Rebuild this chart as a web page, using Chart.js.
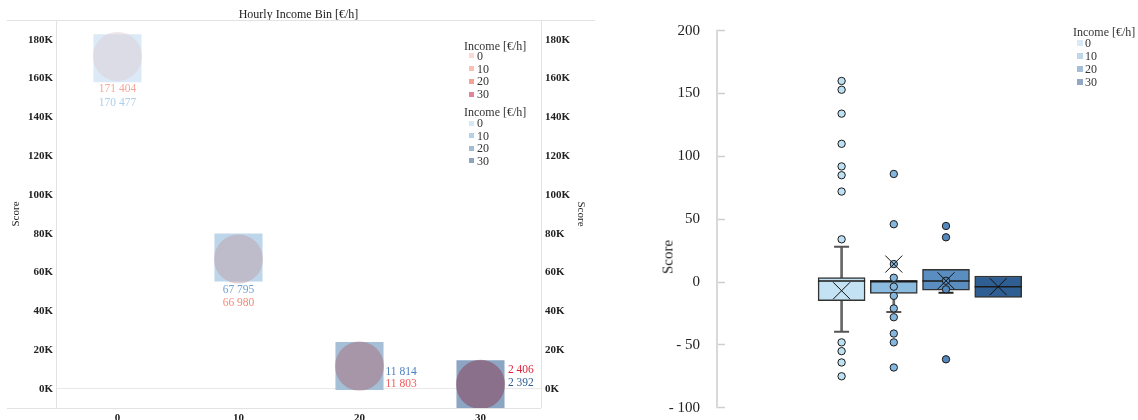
<!DOCTYPE html>
<html><head><meta charset="utf-8">
<script src="https://cdn.jsdelivr.net/npm/chart.js@4.4.1/dist/chart.umd.min.js"></script>
<style>
html,body{margin:0;padding:0;background:#fff;}
#wrap{position:relative;width:1138px;height:420px;overflow:hidden;font-family:"Liberation Serif","Times New Roman",serif;}
canvas{position:absolute;top:0;}
.lg{position:absolute;white-space:nowrap;font-size:12px;line-height:12px;height:12px;color:#333;}
.sw{position:absolute;}
#scoreR{position:absolute;font-size:15px;line-height:15px;color:#222;white-space:nowrap;transform:translate(-50%,-50%) rotate(-90deg);}
</style></head><body>
<div id="wrap">
<canvas id="c1" width="600" height="420" style="left:0"></canvas>
<canvas id="c2" width="498" height="420" style="left:640px"></canvas>
<div id="scoreR" style="left:668px;top:257px">Score</div>
</div>
<script>
// ---------- DATA ----------
const incomeBins = [0, 10, 20, 30];
const binLabels = ['0', '10', '20', '30'];
const countRed = [171404, 66980, 11803, 2406];
const countBlue = [170477, 67795, 11814, 2392];
const countTicks = [0, 20000, 40000, 60000, 80000, 100000, 120000, 140000, 160000, 180000];
const binTicks = [0, 10, 20, 30];

const boxQ1 = [-14.9, -9.0, -6.4, -12.2];
const boxMedian = [0.8, 0.3, 0.8, -3.7];
const boxQ3 = [3.5, 1.3, 10.1, 4.8];
const boxMean = [-6.9, 14.3, 1.0, -3.7];
const whiskerLow = [-39.5, -23.9, -8.5, null];
const whiskerHigh = [28.1, null, null, null];
const outliers0 = [160, 153, 134, 110, 92, 85, 72, 34, -48, -55, -64, -75];
const outliers10 = [86, 46, 14.3, 3.4, -3.7, -11, -21, -28, -41, -48, -68];
const outliers20 = [44.6, 35.6, 1.0, -5.8, -61.5];
const outliers30 = [];
const scoreTicks = [-100, -50, 0, 50, 100, 150, 200];

// ---------- STYLE ----------
const SERIF = '"Liberation Serif", "Times New Roman", serif';
const squareColors = ['rgb(219,234,246)', 'rgb(190,214,234)', 'rgb(165,191,215)', 'rgb(140,165,194)'];
const circleColors = ['rgba(221,206,214,0.5)', 'rgba(190,160,172,0.5)', 'rgba(167,109,121,0.5)', 'rgba(136,59,82,0.5)'];
const redLabelColors = ['#f5a898', '#f48a78', '#f25a5a', '#e0243c'];
const blueLabelColors = ['#a9cfee', '#6fa2d3', '#4a80c0', '#2c5d94'];
const legendRed = ['#fdd9d3', '#fbbfb4', '#f5a193', '#e48396'];
const legendBlue = ['#d8e9f6', '#b6d0e8', '#a3bcd6', '#8ea5bf'];
const legendRight = ['#d9eaf6', '#bcd6ea', '#a5bed8', '#90a8c3'];
const boxFill = ['#c3e2f3', '#8cbbe0', '#5a8ec0', '#2f5f92'];
const outlierFill = ['#bde0f3', '#84b7df', '#5588bc', '#2f5f92'];
const capColors = ['#555', '#555', '#222', '#222'];

const fmt = n => String(n).replace(/\B(?=(\d{3})+(?!\d))/g, ' ');
const fixH = h => s => { s.height = h; s.paddingLeft = 0; s.paddingRight = 0; s.paddingTop = 0; s.paddingBottom = 0; };
const fixW = w => s => { s.width = w; s.paddingLeft = 0; s.paddingRight = 0; s.paddingTop = 0; s.paddingBottom = 0; };

// ---------- LEFT CHART ----------
const framePlugin = {
  id: 'frame',
  beforeDatasetsDraw(chart) {
    const {ctx, chartArea: a} = chart;
    ctx.save();
    ctx.strokeStyle = '#e3e3e3';
    ctx.lineWidth = 1;
    ctx.beginPath();
    ctx.moveTo(7, a.top + 0.5); ctx.lineTo(595, a.top + 0.5);
    ctx.moveTo(7, a.bottom + 0.5); ctx.lineTo(a.right, a.bottom + 0.5);
    ctx.moveTo(a.left + 0.5, a.top); ctx.lineTo(a.left + 0.5, a.bottom);
    ctx.moveTo(a.right + 0.5, a.top); ctx.lineTo(a.right + 0.5, a.bottom);
    ctx.stroke();
    ctx.restore();
  }
};
const labelLayout = [
  [0, 31, 45, 'center'],
  [0, 45.5, 32.5, 'center'],
  [26, 17.5, 6, 'left'],
  [27.5, -14, -1, 'left']
];
const labelPlugin = {
  id: 'vals',
  afterDatasetsDraw(chart) {
    const {ctx, scales: {x, y}} = chart;
    ctx.save();
    ctx.font = '11.5px ' + SERIF;
    ctx.textBaseline = 'middle';
    incomeBins.forEach((b, i) => {
      const px = x.getPixelForValue(b);
      const py = y.getPixelForValue(countBlue[i]);
      const [dx, dr, db, al] = labelLayout[i];
      ctx.textAlign = al;
      ctx.fillStyle = redLabelColors[i];
      ctx.fillText(fmt(countRed[i]), px + dx, py + dr);
      ctx.fillStyle = blueLabelColors[i];
      ctx.fillText(fmt(countBlue[i]), px + dx, py + db);
    });
    ctx.restore();
  }
};
const tickFont = {family: SERIF, size: 11, weight: 'bold'};
new Chart(document.getElementById('c1'), {
  type: 'scatter',
  data: {
    datasets: [
      {
        label: 'Income [€/h] red',
        data: incomeBins.map((b, i) => ({x: b, y: countRed[i]})),
        pointStyle: 'circle', pointRadius: 24.5, pointHoverRadius: 24.5,
        backgroundColor: circleColors, borderWidth: 0, clip: 0, order: 0
      },
      {
        label: 'Income [€/h] blue',
        data: incomeBins.map((b, i) => ({x: b, y: countBlue[i]})),
        pointStyle: 'rect', pointRadius: 34, pointHoverRadius: 34,
        backgroundColor: squareColors, borderWidth: 0, clip: 0, order: 1
      }
    ]
  },
  options: {
    responsive: false, animation: false, events: [],
    layout: {padding: 0, autoPadding: false},
    plugins: {legend: {display: false}, tooltip: {enabled: false}, title: {display: false}},
    scales: {
      x: {
        type: 'linear', position: 'bottom', min: -5.08, max: 35,
        afterBuildTicks: s => { s.ticks = binTicks.map(v => ({value: v})); },
        afterFit: fixH(12),
        grid: {display: false, drawTicks: false}, border: {display: false},
        ticks: {padding: 4, font: tickFont, color: '#222', autoSkip: false, maxRotation: 0}
      },
      xTop: {
        type: 'linear', position: 'top', min: -5.08, max: 35,
        afterFit: fixH(20),
        grid: {display: false, drawTicks: false}, border: {display: false}, ticks: {display: false},
        title: {display: true, text: 'Hourly Income Bin [€/h]', font: {family: SERIF, size: 12}, color: '#222', padding: {top: 8, bottom: 0}}
      },
      y: {
        position: 'left', min: -9800, max: 190200,
        afterBuildTicks: s => { s.ticks = countTicks.map(v => ({value: v})); },
        afterFit: fixW(56),
        grid: {color: c => (c.tick && c.tick.value === 0) ? '#e8e8e8' : 'rgba(0,0,0,0)', drawTicks: false},
        border: {display: false},
        ticks: {padding: 3, font: tickFont, color: '#222', callback: v => (v / 1000) + 'K'},
        title: {display: true, text: 'Score', font: {family: SERIF, size: 11}, color: '#222', padding: {top: 10}}
      },
      y2: {
        position: 'right', min: -9800, max: 190200,
        afterBuildTicks: s => { s.ticks = countTicks.map(v => ({value: v})); },
        afterFit: fixW(59),
        grid: {display: false, drawTicks: false}, border: {display: false},
        ticks: {padding: 4, font: tickFont, color: '#222', callback: v => (v / 1000) + 'K'},
        title: {display: true, text: 'Score', font: {family: SERIF, size: 11}, color: '#222', padding: {top: 13}}
      }
    }
  },
  plugins: [framePlugin, labelPlugin]
});

// ---------- RIGHT CHART ----------
const seriesX = [0, 1, 2, 3];
const outlierSets = [outliers0, outliers10, outliers20, outliers30];
const outlierPts = [], outlierCols = [];
outlierSets.forEach((arr, i) => arr.forEach(v => { outlierPts.push({x: seriesX[i], y: v}); outlierCols.push(outlierFill[i]); }));
const capPts = [], capCols = [], stemPts = [];
seriesX.forEach((x, i) => {
  if (whiskerLow[i] !== null) { capPts.push({x, y: whiskerLow[i]}); capCols.push(capColors[i]); stemPts.push({x, y: [whiskerLow[i], boxQ1[i]]}); }
  if (whiskerHigh[i] !== null) { capPts.push({x, y: whiskerHigh[i]}); capCols.push(capColors[i]); stemPts.push({x, y: [boxQ3[i], whiskerHigh[i]]}); }
});
new Chart(document.getElementById('c2'), {
  type: 'scatter',
  data: {
    datasets: [
      {
        label: 'mean', data: seriesX.map((x, i) => ({x, y: boxMean[i]})),
        pointStyle: 'crossRot', pointRadius: 12, pointHoverRadius: 12,
        borderColor: '#111', borderWidth: 1, backgroundColor: 'transparent', order: 0
      },
      {
        label: 'outliers', data: outlierPts,
        pointStyle: 'circle', pointRadius: 3.7, pointHoverRadius: 3.7,
        backgroundColor: outlierCols, borderColor: '#1a1a1a', borderWidth: 1, order: 1
      },
      {
        label: 'median', data: seriesX.map((x, i) => ({x, y: boxMedian[i]})),
        pointStyle: 'line', pointRadius: 23.5, pointHoverRadius: 23.5,
        borderColor: '#1a1a1a', borderWidth: 1.5, order: 2
      },
      {
        type: 'bar', label: 'box', data: seriesX.map((x, i) => ({x, y: [boxQ1[i], boxQ3[i]]})),
        backgroundColor: boxFill, borderColor: '#333', borderWidth: 1.5, borderSkipped: false,
        barThickness: 47, grouped: false, order: 3
      },
      {
        label: 'caps', data: capPts,
        pointStyle: 'line', pointRadius: 7.5, pointHoverRadius: 7.5,
        borderColor: capCols, borderWidth: 2, order: 4
      },
      {
        type: 'bar', label: 'whiskers', data: stemPts,
        backgroundColor: '#666', borderWidth: 0, barThickness: 2, grouped: false, order: 5
      }
    ]
  },
  options: {
    responsive: false, animation: false, events: [],
    layout: {padding: {top: 30.7, bottom: 12.3, left: 0, right: 78}, autoPadding: false},
    plugins: {legend: {display: false}, tooltip: {enabled: false}, title: {display: false}},
    scales: {
      x: {type: 'linear', min: -2.387, max: 4.184, offset: false, display: false},
      y: {
        position: 'left', min: -100, max: 200,
        afterBuildTicks: s => { s.ticks = scoreTicks.map(v => ({value: v})); },
        afterFit: fixW(77),
        grid: {drawOnChartArea: false, drawTicks: true, tickLength: -8, tickColor: '#cfcfcf', tickWidth: 1.5},
        border: {display: true, color: '#d9d9d9', width: 2},
        ticks: {padding: 25, font: {family: SERIF, size: 15}, color: '#222', callback: v => v < 0 ? '- ' + Math.abs(v) : String(v)}
      }
    }
  }
});

// ---------- LEGENDS (HTML text) ----------
const wrap = document.getElementById('wrap');
function addLegend(titleX, titleY, swX, textX, itemYs, colors, sw) {
  const t = document.createElement('div');
  t.className = 'lg'; t.textContent = 'Income [€/h]';
  t.style.left = titleX + 'px'; t.style.top = (titleY - 6) + 'px';
  wrap.appendChild(t);
  binLabels.forEach((lab, i) => {
    const s = document.createElement('div');
    s.className = 'sw';
    s.style.left = swX + 'px'; s.style.top = (itemYs[i] - sw / 2) + 'px';
    s.style.width = sw + 'px'; s.style.height = sw + 'px';
    s.style.background = colors[i];
    wrap.appendChild(s);
    const d = document.createElement('div');
    d.className = 'lg'; d.textContent = lab;
    d.style.left = textX + 'px'; d.style.top = (itemYs[i] - 6) + 'px';
    wrap.appendChild(d);
  });
}
addLegend(464, 45.7, 468.5, 477, [55.7, 68.6, 81.4, 94], legendRed, 5);
addLegend(464, 111.7, 468.5, 477, [123.3, 135.8, 148.2, 160.7], legendBlue, 5);
addLegend(1073, 31.7, 1076.5, 1085, [43.3, 56.2, 69.1, 82], legendRight, 6);
</script>
</body></html>
